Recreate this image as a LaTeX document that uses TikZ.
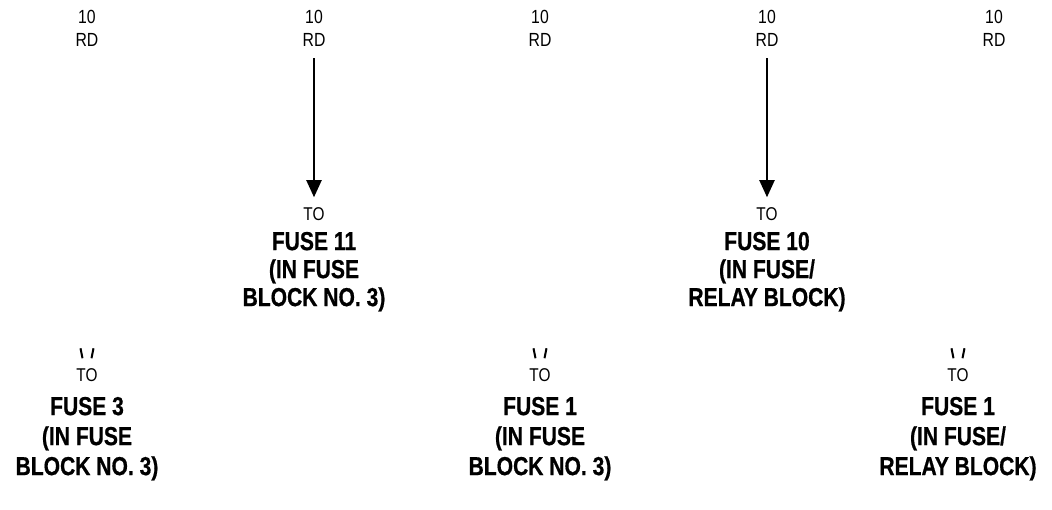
\documentclass[tikz,border=0pt]{standalone}
\usepackage{fontspec}
\setmainfont{Liberation Sans}[FakeStretch=0.83, BoldFeatures={FakeStretch=0.81, FakeBold=0.6}]
\usetikzlibrary{positioning,arrows.meta}
\tikzset{
  wirelbl/.style={font=\fontsize{19}{23.5}\selectfont, align=center, inner sep=1pt},
  tolbl/.style={font=\fontsize{18.5}{20}\selectfont, inner sep=1pt},
  fuselbl/.style={font=\fontsize{26}{28}\selectfont\bfseries, align=center, inner sep=1pt},
  fuselow/.style={fuselbl, font=\fontsize{26}{30}\selectfont\bfseries},
  feed/.style={line width=2pt, -{Triangle[length=17pt,width=15pt]}, shorten <=10pt, shorten >=9pt},
  stub/.style={line width=2pt, line cap=butt}
}
\begin{document}
\begin{tikzpicture}[x=1pt, y=-1pt]
\useasboundingbox (0,0) rectangle (1052,510);
% wire colour tags along the top
\foreach \n/\xx in {a/87, b/314, c/540, d/767, e/994}
  \node[wirelbl] (rd\n) at (\xx,28.5) {10\\RD};
% upper destinations
\node[tolbl] (tob) at (314,214) {TO};
\node[fuselbl, below=9pt of tob] (fb) {FUSE 11\\(IN FUSE\\BLOCK NO. 3)};
\node[tolbl] (tod) at (767,214) {TO};
\node[fuselbl, below=9pt of tod] (fd) {FUSE 10\\(IN FUSE/\\RELAY BLOCK)};
\draw[feed] (rdb) -- (tob);
\draw[feed] (rdd) -- (tod);
% lower destinations
\node[tolbl] (toa) at (87,375) {TO};
\node[fuselow, below=13pt of toa] (fa) {FUSE 3\\(IN FUSE\\BLOCK NO. 3)};
\node[tolbl] (toc) at (540,375) {TO};
\node[fuselow, below=13pt of toc] (fc) {FUSE 1\\(IN FUSE\\BLOCK NO. 3)};
\node[tolbl] (toe) at (958,375) {TO};
\node[fuselow, below=13pt of toe] (fe) {FUSE 1\\(IN FUSE/\\RELAY BLOCK)};
% broken arrow tips above the lower labels
\foreach \t in {toa, toc, toe} {
  \coordinate (tip\t) at ([yshift=9pt]\t.north);
  \draw[stub] ([xshift=-6.5pt,yshift=10pt]tip\t) -- ([xshift=-4.5pt]tip\t);
  \draw[stub] ([xshift=6.5pt,yshift=10pt]tip\t) -- ([xshift=4.5pt]tip\t);
}
\end{tikzpicture}
\end{document}
